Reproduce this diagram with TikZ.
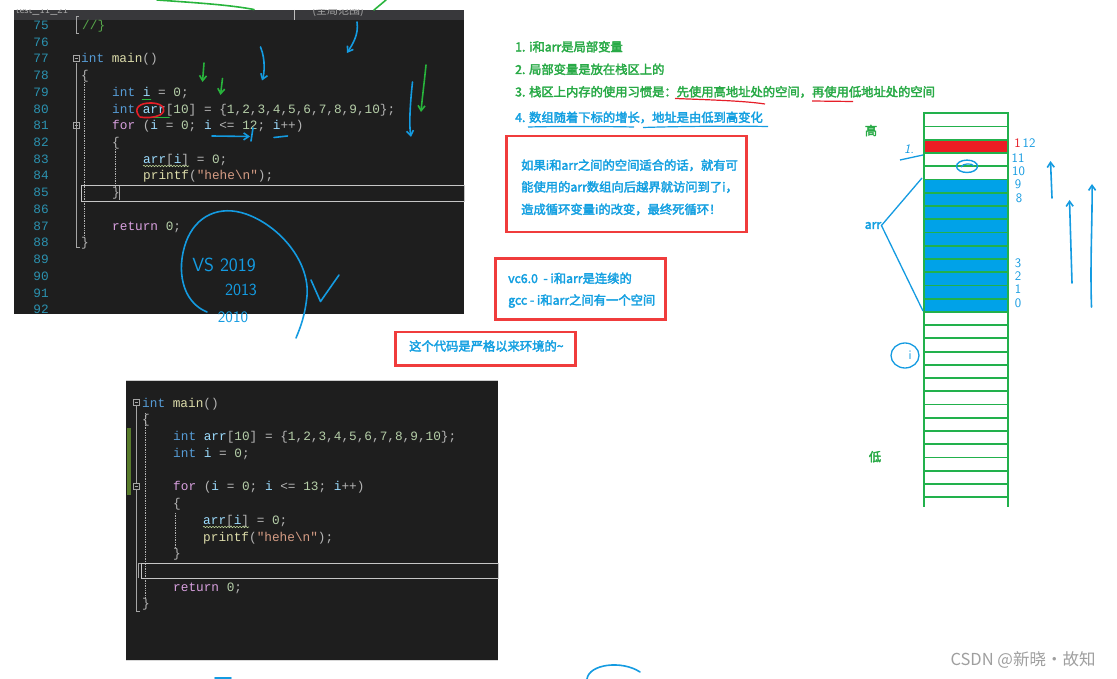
\documentclass[tikz,border=0pt]{standalone}
\usepackage{fontspec}
\setmonofont{Liberation Mono}
\newfontfamily\cjk{Noto Sans CJK SC}[FakeBold=2.6]
\newfontfamily\wmfont{Noto Sans CJK SC}
\usetikzlibrary{arrows.meta,decorations.pathmorphing}
\definecolor{codebg}{HTML}{1E1E1E}
\definecolor{hdrbg}{HTML}{38383B}
\definecolor{lnumc}{HTML}{2B91AF}
\definecolor{ckw}{HTML}{569CD6}
\definecolor{cctl}{HTML}{D8A0DF}
\definecolor{cfn}{HTML}{DCDCAA}
\definecolor{cid}{HTML}{9CDCFE}
\definecolor{cnum}{HTML}{B5CEA8}
\definecolor{cstr}{HTML}{D69D85}
\definecolor{cpun}{HTML}{B4B4B4}
\definecolor{ccom}{HTML}{57A64A}
\definecolor{tgreen}{RGB}{40,170,70}
\definecolor{tblue}{RGB}{20,160,225}
\definecolor{boxred}{RGB}{240,60,60}
\definecolor{pgreen}{RGB}{34,177,76}
\definecolor{pblue}{RGB}{0,162,232}
\definecolor{pred}{RGB}{237,28,36}
\definecolor{hblue}{RGB}{20,155,225}
\definecolor{hgreen}{RGB}{40,180,60}
\definecolor{hred}{RGB}{230,30,40}
\definecolor{chgbar}{HTML}{587B2B}
\newcommand\cxkw[1]{\textcolor{ckw}{#1}}
\newcommand\cxctl[1]{\textcolor{cctl}{#1}}
\newcommand\cxfn[1]{\textcolor{cfn}{#1}}
\newcommand\cxid[1]{\textcolor{cid}{#1}}
\newcommand\cxnum[1]{\textcolor{cnum}{#1}}
\newcommand\cxstr[1]{\textcolor{cstr}{#1}}
\newcommand\cxcom[1]{\textcolor{ccom}{#1}}
\tikzset{
  code/.style={anchor=base west, inner sep=0pt, text=cpun, font=\ttfamily\fontsize{12.75}{15}\selectfont},
  lnum/.style={anchor=base east, inner sep=0pt, text=lnumc, font=\ttfamily\fontsize{12.75}{15}\selectfont},
  note/.style={anchor=base west, inner sep=0pt, font=\cjk\fontsize{12.3}{14}\selectfont},
  redbox/.style={draw=boxred, line width=2.4pt},
  hand/.style={line width=1.6pt, line cap=round, line join=round},
  handtip/.style={-{Straight Barb[length=5pt,width=7pt]}},
  digit/.style={inner sep=0pt, text=hblue, font=\sffamily\fontsize{13}{14}\selectfont},
  guide/.style={gray!60, densely dotted, line width=0.7pt},
  grid/.style={pgreen, line width=1.8pt}
}
\begin{document}
\begin{tikzpicture}[x=1pt,y=-1pt]
\useasboundingbox[fill=white] (0,0) rectangle (1117,679);

% ================= top code panel =================
\fill[codebg] (14,10) rectangle (464,314);
\fill[hdrbg] (14,10) rectangle (464,20);
\begin{scope}
\clip (14,10) rectangle (464,20);
\node[inner sep=0, text=gray!70, font=\sffamily\fontsize{11}{12}\selectfont] (hdr1) at (42,11) {test\_11\_21};
\node[inner sep=0, text=gray!70, font=\wmfont\fontsize{11}{12}\selectfont] (hdr2) at (338,11) {(全局范围)};
\end{scope}
\draw[gray!50] (294,10) -- (294,20);
% line numbers
\foreach \n in {75,...,92}
  \node[lnum] (ln\n) at (49,{29.5+(\n-75)*16.72}) {\n};
% structure bracket and guides
\draw[gray!70, line width=0.7pt] (79,16) -- (76,16) -- (76,33) -- (79,33);
\draw[gray!70, line width=0.7pt] (76,63) -- (76,247) -- (80,247);
\draw[gray!70, line width=0.7pt] (73,55.5) rectangle (79,61.5);
\draw[gray!70, line width=0.7pt] (74.5,58.5) -- (77.5,58.5);
\draw[gray!70, line width=0.7pt] (73,122) rectangle (79,128);
\draw[gray!70, line width=0.7pt] (74.5,125) -- (77.5,125);
\draw[guide] (84,82) -- (84,238);
\draw[guide] (115,149) -- (115,188);
\draw[gray!45, line width=0.8pt] (81,185) rectangle (464,201);
\draw[gray!70, line width=0.8pt] (119,186) -- (119,200);
% code
\node[code] (c75) at (82,29.5) {\cxcom{//\}}};
\node[code] (c77) at (81,62.9) {\cxkw{int} \cxfn{main}()};
\node[code] (c78) at (81,79.6) {\{};
\node[code] (c79) at (112,96.3) {\cxkw{int} \cxid{i} = \cxnum{0};};
\node[code] (c80) at (112,113.1) {\cxkw{int} \cxid{arr}[\cxnum{10}] = \{\cxnum{1},\cxnum{2},\cxnum{3},\cxnum{4},\cxnum{5},\cxnum{6},\cxnum{7},\cxnum{8},\cxnum{9},\cxnum{10}\};};
\node[code] (c81) at (112,129.8) {\cxctl{for} (\cxid{i} = \cxnum{0}; \cxid{i} <= \cxnum{12}; \cxid{i}++)};
\node[code] (c82) at (112,146.5) {\{};
\node[code] (c83) at (143,163.2) {\cxid{arr}[\cxid{i}] = \cxnum{0};};
\node[code] (c84) at (143,179.9) {\cxfn{printf}(\cxstr{"hehe\textbackslash n"});};
\node[code] (c85) at (112,196.7) {\}};
\node[code] (c87) at (112,230.1) {\cxctl{return} \cxnum{0};};
\node[code] (c88) at (81,246.8) {\}};
\draw[cnum!90!yellow, line width=0.6pt, decorate, decoration={snake, amplitude=0.7pt, segment length=3pt}] (143,166) -- (189,166);

% ================= bottom code panel =================
\fill[codebg] (126,380) rectangle (498,660);
\draw[gray!40, line width=0.8pt] (126,380) -- (498,380);
\draw[gray!30, line width=0.8pt] (126,660) -- (498,660);
\fill[chgbar] (127,428) rectangle (131,495);
\draw[gray!70, line width=0.7pt] (133,399.5) rectangle (139,405.5);
\draw[gray!70, line width=0.7pt] (134.5,402.5) -- (137.5,402.5);
\draw[gray!70, line width=0.7pt] (133,483.3) rectangle (139,489.3);
\draw[gray!70, line width=0.7pt] (134.5,486.3) -- (137.5,486.3);
\draw[gray!70, line width=0.7pt] (136,406) -- (136,483);
\draw[gray!70, line width=0.7pt] (136,490) -- (136,611) -- (140,611);
\draw[guide] (145,413) -- (145,598);
\draw[guide] (175,513) -- (175,548);
\draw[gray!45, line width=0.8pt] (141,563) rectangle (498,578);
\draw[gray!70, line width=0.7pt] (141,563) -- (138,563) -- (138,578);
\node[code] (d0) at (142,407.2) {\cxkw{int} \cxfn{main}()};
\node[code] (d1) at (142,423.9) {\{};
\node[code] (d2) at (173,440.6) {\cxkw{int} \cxid{arr}[\cxnum{10}] = \{\cxnum{1},\cxnum{2},\cxnum{3},\cxnum{4},\cxnum{5},\cxnum{6},\cxnum{7},\cxnum{8},\cxnum{9},\cxnum{10}\};};
\node[code] (d3) at (173,457.4) {\cxkw{int} \cxid{i} = \cxnum{0};};
\node[code] (d5) at (173,490.8) {\cxctl{for} (\cxid{i} = \cxnum{0}; \cxid{i} <= \cxnum{13}; \cxid{i}++)};
\node[code] (d6) at (173,507.5) {\{};
\node[code] (d7) at (203,524.2) {\cxid{arr}[\cxid{i}] = \cxnum{0};};
\node[code] (d8) at (203,541) {\cxfn{printf}(\cxstr{"hehe\textbackslash n"});};
\node[code] (d9) at (173,557.7) {\}};
\node[code] (d11) at (173,591.1) {\cxctl{return} \cxnum{0};};
\node[code] (d12) at (142,607.8) {\}};
\draw[cnum!90!yellow, line width=0.6pt, decorate, decoration={snake, amplitude=0.7pt, segment length=3pt}] (203,527) -- (249,527);

% ================= notes =================
\node[note, text=tgreen] (n1) at (515,51.4) {1. i和arr是局部变量};
\node[note, text=tgreen] (n2) at (515,74) {2. 局部变量是放在栈区上的};
\node[note, text=tgreen] (n3) at (515,96.4) {3. 栈区上内存的使用习惯是：先使用高地址处的空间，再使用低地址处的空间};
\node[note, text=tblue] (n4) at (515,122) {4. 数组随着下标的增长，地址是由低到高变化};
\draw[hred, line width=1.2pt] (675,98.5) .. controls (715,100) and (745,101) .. (765,104);
\draw[hred, line width=1.2pt] (812,101) -- (853,101.5);
\draw[hblue, line width=1.2pt] (528,127) .. controls (570,126) and (610,126.5) .. (634,127);
\draw[hblue, line width=1.2pt] (643,127.5) .. controls (690,126) and (740,126) .. (768,126.5);

\draw[redbox] (506.5,136) rectangle (746.5,232);
\node[note, text=tblue] (b1a) at (521,169.8) {如果i和arr之间的空间适合的话，就有可};
\node[note, text=tblue] (b1b) at (521,191.5) {能使用的arr数组向后越界就访问到了i，};
\node[note, text=tblue] (b1c) at (521,214) {造成循环变量i的改变，最终死循环！};

\draw[redbox] (495.5,258.5) rectangle (665.5,319.5);
\node[note, text=tblue] (b2a) at (508,283) {vc6.0\ \ - i和arr是连续的};
\node[note, text=tblue] (b2b) at (508,304.7) {gcc - i和arr之间有一个空间};

\draw[redbox] (395.5,332) rectangle (575.5,365.5);
\node[note, text=tblue] (b3) at (409,350.7) {这个代码是严格以来环境的\char"007E};

% ================= stack =================
\fill[pred] (924,{113.3+13.24*2}) rectangle (1008,{113.3+13.24*3});
\fill[pblue] (924,{113.3+13.24*5}) rectangle (1008,{113.3+13.24*15});
\foreach \k in {0,...,29}
  \draw[grid] (924,{113.3+13.24*\k}) -- (1008,{113.3+13.24*\k});
\draw[grid] (924,112.4) -- (924,507);
\draw[grid] (1008,112.4) -- (1008,507);
\node[note, text=tgreen, anchor=center] (gao) at (871,130.5) {高};
\node[note, text=tgreen, anchor=center] (di) at (875,456.7) {低};
\node[note, text=tblue, anchor=center] (arrlbl) at (873,225.5) {arr};
\coordinate (arrtop) at (922,178);
\coordinate (arrbot) at (923,311);
\draw[hblue, line width=1.3pt] (arrtop) -- (arrlbl.east) -- (arrbot);

% handwritten indices
\node[digit, text=hred] (h12a) at (1017.5,143.5) {1};
\node[digit] (h12b) at (1029,143.5) {12};
\node[digit] (h11) at (1018,158.5) {11};
\node[digit] (h10) at (1018.5,171) {10};
\node[digit] (h9) at (1018,184) {9};
\node[digit] (h8) at (1019,198) {8};
\node[digit] (h3) at (1018,263.5) {3};
\node[digit] (h2) at (1018,276.5) {2};
\node[digit] (h1) at (1018,289.5) {1};
\node[digit] (h0) at (1018,303.5) {0};
\node[digit, font=\sffamily\itshape\fontsize{13}{14}\selectfont] (hi1) at (909,149.5) {1.};
\draw[hblue, line width=1.3pt] (900,160) -- (923,155);
\draw[hblue, line width=1.4pt] (967,166.3) ellipse [x radius=10.5, y radius=6.2];
\draw[hblue, line width=1.2pt] (961,167) .. controls (963,163) and (972,163) .. (974,166);
\draw[hblue, line width=1.3pt] (905,355.5) ellipse [x radius=14, y radius=12.5];
\node[digit] (hi2) at (910,355) {i};
% up arrows
\coordinate (ua1s) at (1052,198); \coordinate (ua1e) at (1050.5,161);
\coordinate (ua2s) at (1072,283); \coordinate (ua2e) at (1069.5,200);
\coordinate (ua3s) at (1091.5,307); \coordinate (ua3e) at (1092,184);
\draw[hblue, hand, handtip] (ua1s) -- (ua1e);
\draw[hblue, hand, handtip] (ua2s) -- (ua2e);
\draw[hblue, hand, handtip] (ua3s) .. controls (1090,260) and (1092.5,220) .. (ua3e);

% ================= handwriting on the code =================
\draw[hgreen, hand] (157,0) .. controls (200,3) and (230,5) .. (254,9.5);
\draw[hgreen, hand] (386,0) -- (374,10);
\draw[hblue, hand, handtip] (357,22) .. controls (359,35) and (352,45) .. (347,53);
\draw[hblue, hand, handtip] (260.5,47) .. controls (266,60) and (264,75) .. (262,80.5);
\draw[hgreen, hand, handtip] (204,63) -- (202.5,82);
\draw[hgreen, hand, handtip] (222.5,78.5) -- (220.5,95);
\draw[hblue, hand, handtip] (412.5,82) .. controls (410,105) and (409,125) .. (411,137);
\draw[hgreen, hand, handtip] (426,65) .. controls (424,85) and (422,100) .. (421,112);
\draw[hblue, hand, handtip] (212,136) -- (250,136.5);
\draw[hblue, hand] (253,128) -- (251,141);
\draw[hblue, hand] (274,137.5) -- (287.5,136);
\draw[hgreen, hand] (142.5,99.5) -- (150.5,99.5);
\draw[hgreen, hand] (142.5,117.5) -- (169,117.5);
\draw[hred, hand] (139,116) .. controls (133,108) and (140,102.5) .. (152,103) .. controls (163,103.5) and (168,110) .. (160,115) .. controls (154,118) and (145,118) .. (140,117);
% VS circle
\draw[hblue, hand] (207,312) .. controls (182,302) and (176,270) .. (186,242) .. controls (196,215) and (220,205) .. (246,214) .. controls (280,226) and (310,262) .. (307,296) .. controls (305,315) and (301,326) .. (296,338);
\node[inner sep=0, text=hblue, font=\sffamily\fontsize{19}{20}\selectfont] (vs19) at (224,265) {VS 2019};
\node[inner sep=0, text=hblue, font=\sffamily\fontsize{17}{18}\selectfont] (vs13) at (241,290) {2013};
\node[inner sep=0, text=hblue, font=\sffamily\fontsize{16}{17}\selectfont] (vs10) at (233,317) {2010};
\draw[hblue, hand] (311,280) -- (320.5,301.5) -- (339,275);

% bottom scribbles
\draw[hblue, hand] (587,679) .. controls (589,664) and (622,660) .. (640,672);
\draw[hblue, hand] (215,678) -- (231,678);

% watermark
\node[inner sep=0, text=gray!75, font=\wmfont\fontsize{16.5}{18}\selectfont] (wm) at (1023,660) {CSDN @新晓·故知};
\end{tikzpicture}
\end{document}
